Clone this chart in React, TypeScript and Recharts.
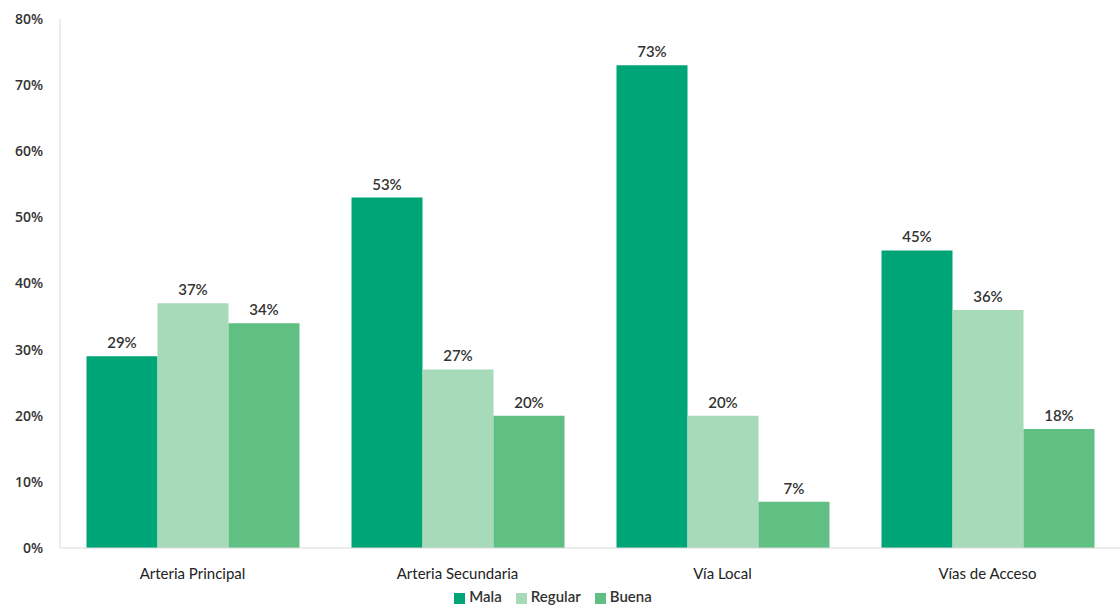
import { BarChart, Bar, XAxis, YAxis, Legend, LabelList } from "recharts"

const categories = ["Arteria Principal", "Arteria Secundaria", "Vía Local", "Vías de Acceso"]
const mala = [29, 53, 73, 45]
const regular = [37, 27, 20, 36]
const buena = [34, 20, 7, 18]
const yTicks = [0, 10, 20, 30, 40, 50, 60, 70, 80]

const data = categories.map((name, i) => ({
  name,
  Mala: mala[i],
  Regular: regular[i],
  Buena: buena[i],
}))

const fmt = (v: number) => `${v}%`

const labelStyle = { fontSize: 15, fill: "#333", fontFamily: "Lato, sans-serif", fontWeight: 600 }

// no scrollbars, chart sits at the page's top-left corner
document.documentElement.style.overflow = "hidden"
document.body.style.margin = "0"

export default function App() {
  return (
    <div style={{ background: "#fff", width: 1120, height: 608 }}>
      <BarChart
        width={1120}
        height={608}
        data={data}
        margin={{ top: 19, right: 0, left: 0, bottom: 0 }}
        barCategoryGap="10%"
        barGap={0}
      >
        <XAxis
          dataKey="name"
          axisLine={{ stroke: "#d9d9d9" }}
          tickLine={false}
          tick={{ fontSize: 15, fill: "#222", fontFamily: "Lato, sans-serif" }}
          tickMargin={14}
          height={30}
        />
        <YAxis
          width={60}
          domain={[0, 80]}
          ticks={yTicks}
          tickFormatter={fmt}
          axisLine={{ stroke: "#d9d9d9" }}
          tickLine={false}
          tickMargin={11}
          tick={{ fontSize: 14, fill: "#333", fontFamily: "'Open Sans', sans-serif", fontWeight: 600 }}
        />
        <Legend
          verticalAlign="bottom"
          height={30}
          iconType="square"
          iconSize={11}
          itemSorter={null}
          wrapperStyle={{
            fontSize: 15,
            fontFamily: "Lato, sans-serif",
            fontWeight: 600,
            bottom: 0,
            height: 30,
            paddingTop: 8,
            boxSizing: "border-box",
            lineHeight: "20px",
          }}
          formatter={(value) => <span style={{ color: "#333", marginRight: 4 }}>{value}</span>}
        />
        <Bar dataKey="Mala" fill="#00a577" isAnimationActive={false}>
          <LabelList dataKey="Mala" position="top" offset={8} formatter={fmt} style={labelStyle} />
        </Bar>
        <Bar dataKey="Regular" fill="#a6dab8" isAnimationActive={false}>
          <LabelList dataKey="Regular" position="top" offset={8} formatter={fmt} style={labelStyle} />
        </Bar>
        <Bar dataKey="Buena" fill="#60bf82" isAnimationActive={false}>
          <LabelList dataKey="Buena" position="top" offset={8} formatter={fmt} style={labelStyle} />
        </Bar>
      </BarChart>
    </div>
  )
}
